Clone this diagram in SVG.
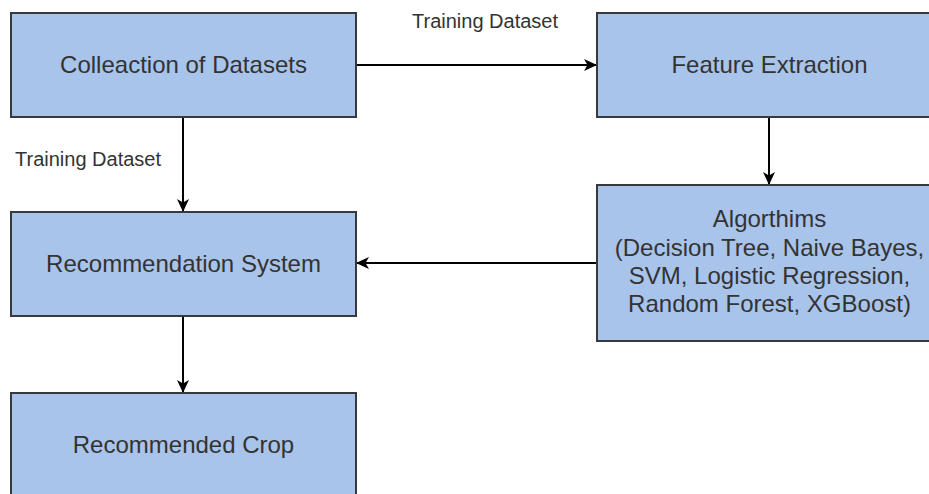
<svg xmlns="http://www.w3.org/2000/svg" width="929" height="494" viewBox="0 0 929 494">
<defs>
<marker id="arr" markerUnits="userSpaceOnUse" markerWidth="14" markerHeight="14" refX="13" refY="7" orient="auto" viewBox="0 0 14 14">
<path d="M0,1 L13,7 L0,13 L3.5,7 Z" fill="#000"/>
</marker>
<style>
.box{fill:#A9C4EB;stroke:#36393d;stroke-width:2}
.lbl{font-family:"Liberation Sans",Arial,sans-serif;font-size:24px;fill:#333;text-anchor:middle}
.edge{fill:none;stroke:#000;stroke-width:2;marker-end:url(#arr)}
.elbl{font-family:"Liberation Sans",Arial,sans-serif;font-size:20px;fill:#333}
</style>
</defs>
<rect width="929" height="494" fill="#fff"/>
<g id="connectors">
<path class="edge" d="M356,65 L597,65"/>
<path class="edge" d="M183,117 L183,212"/>
<path class="edge" d="M769,117 L769,185"/>
<path class="edge" d="M597,263 L356,263"/>
<path class="edge" d="M183,316 L183,393"/>
<text class="elbl" x="412" y="27.5">Training Dataset</text>
<text class="elbl" x="15" y="166">Training Dataset</text>
</g>
<g id="collection">
<rect class="box" x="11" y="13" width="345" height="104"/>
<text class="lbl" x="183.5" y="73">Colleaction of Datasets</text>
</g>
<g id="feature">
<rect class="box" x="597" y="13" width="345" height="104"/>
<text class="lbl" x="769.5" y="73">Feature Extraction</text>
</g>
<g id="algorithms">
<rect class="box" x="597" y="185" width="345" height="156"/>
<text class="lbl" x="769.5" y="227">Algorthims</text>
<text class="lbl" x="769.5" y="255.5">(Decision Tree, Naive Bayes,</text>
<text class="lbl" x="769.5" y="284">SVM, Logistic Regression,</text>
<text class="lbl" x="769.5" y="312">Random Forest, XGBoost)</text>
</g>
<g id="recsys">
<rect class="box" x="11" y="212" width="345" height="104"/>
<text class="lbl" x="183.5" y="272">Recommendation System</text>
</g>
<g id="crop">
<rect class="box" x="11" y="393" width="345" height="104"/>
<text class="lbl" x="183.5" y="453">Recommended Crop</text>
</g>
</svg>
